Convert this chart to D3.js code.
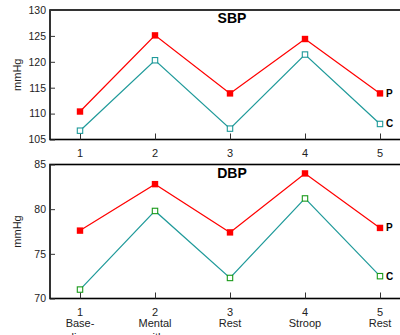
<!DOCTYPE html>
<html>
<head>
<meta charset="utf-8">
<script src="https://cdn.jsdelivr.net/npm/d3@7"></script>
<style>
  body { margin: 0; background: #fff; }
  svg { display: block; font-family: "Liberation Sans", Arial, sans-serif; }
</style>
</head>
<body>
<svg id="chart" width="400" height="335"></svg>
<script>
// conditions on the x axis
const steps = [1, 2, 3, 4, 5];
const stepNames = [["Base-", "line"], ["Mental", "arith."], ["Rest"], ["Stroop"], ["Rest"]];

// systolic (top panel)
const sbpP = [110.4, 125.1, 113.9, 124.4, 113.9];
const sbpC = [106.7, 120.3, 107.1, 121.4, 108.0];
const sbpTicks = [105, 110, 115, 120, 125, 130];

// diastolic (bottom panel)
const dbpP = [77.6, 82.8, 77.4, 84.0, 77.9];
const dbpC = [71.0, 79.8, 72.3, 81.2, 72.5];
const dbpTicks = [70, 75, 80, 85];

const svg = d3.select("#chart");
const red = "#ff0000", teal = "#1f9a9a";

const x = d3.scalePoint().domain(steps).range([80, 380]);

function panel(opts) {
  const g = svg.append("g");
  const y = d3.scaleLinear().domain(opts.domain).range([opts.bottom, opts.top]);

  // frame
  g.append("rect")
    .attr("x", 50).attr("y", opts.top)
    .attr("width", 354).attr("height", opts.bottom - opts.top)
    .attr("fill", "none").attr("stroke", "#000").attr("stroke-width", 1.6);

  // y axis, inward ticks
  const ya = g.append("g").attr("transform", "translate(50,0)")
    .call(d3.axisRight(y).tickValues(opts.ticks).tickSize(5).tickFormat(d3.format("d")));
  ya.select(".domain").remove();
  ya.selectAll("line").attr("stroke", "#333");
  ya.selectAll("text").attr("x", -4).attr("text-anchor", "end")
    .attr("font-size", 10.5).attr("fill", "#222").attr("font-family", null);

  // x axis ticks pointing up into plot
  const xa = g.append("g").attr("transform", `translate(0,${opts.bottom})`)
    .call(d3.axisTop(x).tickSize(6).tickFormat(""));
  xa.select(".domain").remove();
  xa.selectAll("line").attr("stroke", "#333");

  // x tick labels
  const lbl = g.selectAll(".xl").data(steps).enter().append("text")
    .attr("x", d => x(d)).attr("y", opts.bottom + 17)
    .attr("text-anchor", "middle").attr("font-size", 11).attr("fill", "#222");
  lbl.append("tspan").attr("x", d => x(d)).text(d => d);
  if (opts.names) {
    lbl.each(function(d, i) {
      stepNames[i].forEach((s, j) => {
        d3.select(this).append("tspan").attr("x", x(d))
          .attr("dy", j === 0 ? 11.5 : 13.5).text(s);
      });
    });
  }

  // y title
  g.append("text")
    .attr("transform", `translate(21,${(opts.top + opts.bottom) / 2}) rotate(-90)`)
    .attr("text-anchor", "middle").attr("font-size", 11).attr("fill", "#222")
    .text("mmHg");

  // panel title
  g.append("text").attr("x", 232).attr("y", opts.top + 13)
    .attr("text-anchor", "middle").attr("font-size", 14).attr("font-weight", "bold")
    .text(opts.title);

  const line = d3.line().x((d, i) => x(steps[i])).y(d => y(d));

  g.append("path").datum(opts.c).attr("d", line)
    .attr("fill", "none").attr("stroke", teal).attr("stroke-width", 1.2);
  g.append("path").datum(opts.p).attr("d", line)
    .attr("fill", "none").attr("stroke", red).attr("stroke-width", 1.2);

  g.selectAll(".cm").data(opts.c).enter().append("rect")
    .attr("x", (d, i) => x(steps[i]) - 2.7).attr("y", d => y(d) - 2.7)
    .attr("width", 5.4).attr("height", 5.4)
    .attr("fill", "#fff").attr("stroke", opts.cMark).attr("stroke-width", 1.1);
  g.selectAll(".pm").data(opts.p).enter().append("rect")
    .attr("x", (d, i) => x(steps[i]) - 3.2).attr("y", d => y(d) - 3.2)
    .attr("width", 6.4).attr("height", 6.4).attr("fill", red);

  // series labels at the right end
  const last = steps.length - 1;
  g.append("text").attr("x", x(steps[last]) + 6).attr("y", y(opts.p[last]) + 3.5)
    .attr("font-size", 10).attr("font-weight", "bold").text("P");
  g.append("text").attr("x", x(steps[last]) + 6).attr("y", y(opts.c[last]) + 3.5)
    .attr("font-size", 10).attr("font-weight", "bold").text("C");
}

panel({ title: "SBP", p: sbpP, c: sbpC, ticks: sbpTicks, domain: [105, 130],
        top: 10, bottom: 139.5, cMark: teal, names: false });
panel({ title: "DBP", p: dbpP, c: dbpC, ticks: dbpTicks, domain: [70, 85],
        top: 164.5, bottom: 298.5, cMark: "#1a9a1a", names: true });
</script>
</body>
</html>
